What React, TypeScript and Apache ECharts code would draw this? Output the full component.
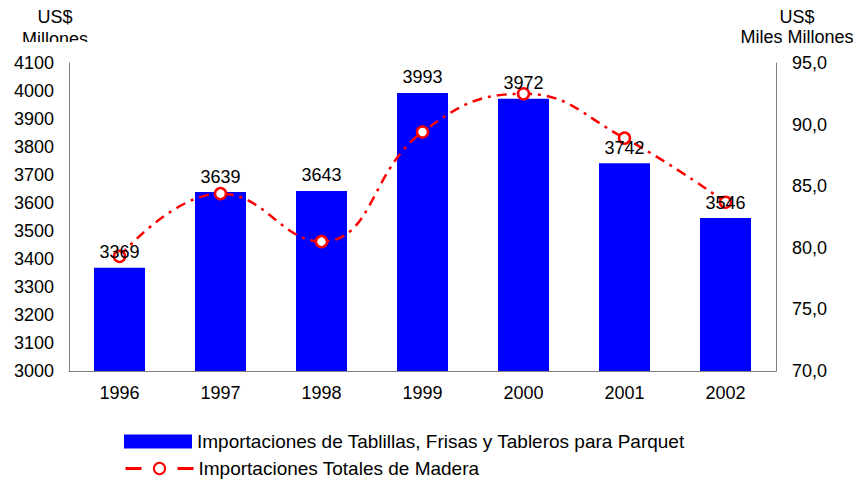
import React, { useEffect, useRef } from "react";
import * as echarts from "echarts";

const years = ["1996", "1997", "1998", "1999", "2000", "2001", "2002"];
const parquetImports = [3369, 3639, 3643, 3993, 3972, 3742, 3546];
const totalWoodImports = [79.3, 84.4, 80.5, 89.4, 92.5, 88.9, 83.7];
const leftTicks = { min: 3000, max: 4100, step: 100 };
const rightTicks = { min: 70, max: 95, step: 5 };
const barName = "Importaciones de Tablillas, Frisas y Tableros para Parquet";
const lineName = "Importaciones Totales de Madera";

const FONT = "'Liberation Sans', Arial, sans-serif";

export default function App() {
  const ref = useRef<HTMLDivElement>(null);
  useEffect(() => {
    document.body.style.margin = "0";
    const chart = echarts.init(ref.current!, null, { renderer: "svg" });
    const legendText = { fontSize: 19, color: "#000", fontFamily: FONT };
    chart.setOption({
      animation: false,
      textStyle: { fontFamily: FONT },
      grid: { left: 69, right: 81, top: 63, bottom: 110 },
      legend: [
        {
          left: 124,
          top: 432,
          padding: 0,
          itemWidth: 68,
          itemHeight: 14,
          textStyle: legendText,
          data: [{ name: barName, icon: "rect" }],
        },
        {
          left: 124,
          top: 459,
          padding: 0,
          itemWidth: 68,
          itemHeight: 14,
          textStyle: legendText,
          data: [{ name: lineName, lineStyle: { type: [16, 36], width: 3 } }],
        },
      ],
      xAxis: {
        type: "category",
        data: years,
        axisLine: { lineStyle: { color: "#808080", width: 1 } },
        axisTick: { show: false },
        axisLabel: { color: "#000", fontSize: 18, margin: 13, fontFamily: FONT },
      },
      yAxis: [
        {
          type: "value",
          min: leftTicks.min,
          max: leftTicks.max,
          interval: leftTicks.step,
          axisLine: { show: true, lineStyle: { color: "#808080", width: 1 } },
          axisTick: { show: false },
          splitLine: { show: false },
          axisLabel: {
            color: "#000",
            fontSize: 18,
            margin: 15,
            fontFamily: FONT,
            formatter: (v: number) => String(v),
          },
        },
        {
          type: "value",
          min: rightTicks.min,
          max: rightTicks.max,
          interval: rightTicks.step,
          axisLine: { show: true, lineStyle: { color: "#808080", width: 1 } },
          axisTick: { show: false },
          splitLine: { show: false },
          axisLabel: {
            color: "#000",
            fontSize: 18,
            margin: 16,
            fontFamily: FONT,
            formatter: (v: number) => v.toFixed(1).replace(".", ","),
          },
        },
      ],
      series: [
        {
          name: barName,
          type: "bar",
          data: parquetImports,
          barWidth: 51,
          itemStyle: { color: "#0000FF" },
          z: 1,
        },
        {
          name: lineName,
          type: "line",
          yAxisIndex: 1,
          data: totalWoodImports,
          smooth: 0.45,
          symbol: "circle",
          symbolSize: 11,
          itemStyle: { color: "#fff", borderColor: "#FF0000", borderWidth: 2.5 },
          lineStyle: { color: "#FF0000", width: 2.5, type: [10, 6, 3, 6] },
          z: 3,
        },
        {
          name: "labels",
          type: "line",
          yAxisIndex: 0,
          data: parquetImports,
          symbol: "circle",
          symbolSize: 1,
          itemStyle: { color: "rgba(0,0,0,0)" },
          lineStyle: { width: 0, opacity: 0 },
          silent: true,
          label: {
            show: true,
            position: "top",
            distance: 6,
            color: "#000",
            fontSize: 18,
            fontFamily: FONT,
          },
          z: 5,
        },
      ],
      graphic: [
        {
          type: "text",
          x: 55,
          y: 8,
          style: { text: "US$", font: `18px ${FONT}`, fill: "#000", textAlign: "center" },
        },
        {
          type: "text",
          x: 55,
          y: 30,
          style: { text: "Millones", font: `18px ${FONT}`, fill: "#000", textAlign: "center" },
          z: 10,
        },
        {
          type: "rect",
          shape: { x: 10, y: 42, width: 90, height: 12 },
          style: { fill: "#fff" },
          z: 20,
        },
        {
          type: "text",
          x: 797,
          y: 8,
          style: { text: "US$", font: `18px ${FONT}`, fill: "#000", textAlign: "center" },
        },
        {
          type: "text",
          x: 797,
          y: 28,
          style: { text: "Miles Millones", font: `18px ${FONT}`, fill: "#000", textAlign: "center" },
        },
      ],
    });
    return () => chart.dispose();
  }, []);
  return <div ref={ref} style={{ width: 857, height: 481 }} />;
}
